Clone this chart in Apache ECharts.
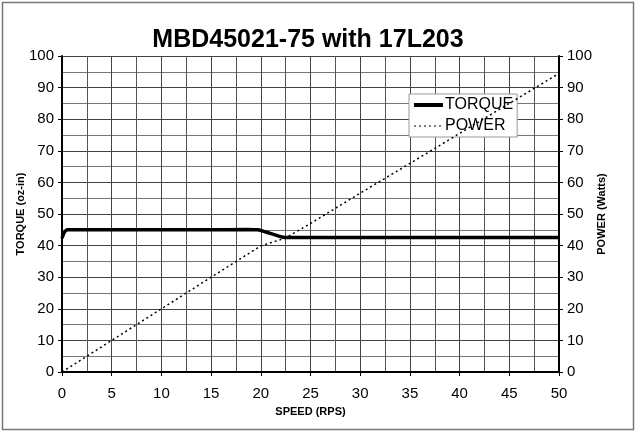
<!DOCTYPE html>
<html><head><meta charset="utf-8">
<script src="https://cdn.jsdelivr.net/npm/echarts@6/dist/echarts.min.js"></script>
<style>html,body{margin:0;padding:0;background:#fff}#c{width:639px;height:434px}</style>
</head><body><div id="c"></div>
<script>
var titleText = 'MBD45021-75 with 17L203';
var xTicks = [0,5,10,15,20,25,30,35,40,45,50];
var torqueSpeed = [0, 0.55, 5, 10, 15, 18.5, 19.7, 20.5, 21.5, 22.4, 25, 30, 35, 40, 45, 50];
var torqueVal   = [42.3, 45, 45, 45, 45, 45.1, 45, 44.3, 43.3, 42.6, 42.6, 42.6, 42.6, 42.6, 42.6, 42.6];
var powerSpeed = [0, 5, 10, 15, 20, 22.5, 25, 30, 35, 40, 45, 50];
var powerVal   = [0, 10, 20, 30, 39.9, 42.4, 47, 56.6, 66, 75.5, 85, 94.5];

var F = '"Liberation Sans", Arial, sans-serif';
function zip(a,b){return a.map(function(v,i){return [v,b[i]];});}
var chart = echarts.init(document.getElementById('c'), null, {renderer:'canvas'});
chart.setOption({
  animation:false,
  backgroundColor:'#fff',
  title:{text:titleText,left:303,textAlign:'center',top:23,
    textStyle:{fontFamily:F,fontSize:25,fontWeight:'bold',color:'#000'}},
  graphic:[{type:'rect',shape:{x:2.5,y:2.5,width:631,height:427},
    style:{fill:'none',stroke:'#777',lineWidth:1.5},z:-10}],
  legend:{left:409,top:94,orient:'vertical',itemWidth:29,itemHeight:12,itemGap:5,
    padding:[3,4,3,3],borderColor:'#999',borderWidth:1,backgroundColor:'#fff',
    textStyle:{fontFamily:F,fontSize:16,color:'#000',padding:[0,0,0,-3]},
    itemStyle:{opacity:0},
    data:[{name:'TORQUE',lineStyle:{width:4,color:'#000'}},
          {name:'POWER',lineStyle:{width:1.2,color:'#000',type:[2,3]}}]},
  grid:{left:62,right:80,top:56,bottom:62},
  xAxis:{type:'value',min:0,max:50,interval:5,
    name:'SPEED (RPS)',nameLocation:'middle',nameGap:34,nameMoveOverlap:false,
    nameTextStyle:{fontFamily:F,fontSize:11,fontWeight:'bold',color:'#000'},
    axisLine:{lineStyle:{color:'#000',width:2}},
    axisTick:{show:true,length:4,lineStyle:{color:'#000'}},
    axisLabel:{fontFamily:F,fontSize:15,color:'#000',margin:14},
    splitLine:{show:true,lineStyle:{color:'#444',width:1}},
    minorTick:{show:false,splitNumber:2},
    minorSplitLine:{show:true,lineStyle:{color:'#555',width:1}}},
  yAxis:[{type:'value',min:0,max:100,interval:10,position:'left',
    name:'TORQUE (oz-in)',nameLocation:'middle',nameGap:36,nameMoveOverlap:false,
    nameTextStyle:{fontFamily:F,fontSize:11,fontWeight:'bold',color:'#000'},
    axisLine:{show:true,lineStyle:{color:'#000',width:2}},
    axisTick:{show:true,length:4,lineStyle:{color:'#000'}},
    axisLabel:{fontFamily:F,fontSize:15,color:'#000',margin:8},
    splitLine:{show:true,lineStyle:{color:'#444',width:1}},
    minorTick:{show:false,splitNumber:2},
    minorSplitLine:{show:true,lineStyle:{color:'#777',width:1}}},
   {type:'value',min:0,max:100,interval:10,position:'right',
    name:'POWER (Watts)',nameLocation:'middle',nameGap:37,nameRotate:90,nameMoveOverlap:false,
    nameTextStyle:{fontFamily:F,fontSize:11,fontWeight:'bold',color:'#000'},
    axisLine:{show:true,lineStyle:{color:'#000',width:2}},
    axisTick:{show:true,length:4,lineStyle:{color:'#000'}},
    axisLabel:{fontFamily:F,fontSize:15,color:'#000',margin:8},
    splitLine:{show:false}}],
  series:[
    {name:'TORQUE',type:'line',yAxisIndex:0,data:zip(torqueSpeed,torqueVal),
     symbol:'none',smooth:0.3,lineStyle:{color:'#000',width:3.5},itemStyle:{color:'#000'},z:5},
    {name:'POWER',type:'line',yAxisIndex:1,data:zip(powerSpeed,powerVal),
     symbol:'none',lineStyle:{color:'#000',width:1.5,type:[2,3]},itemStyle:{color:'#000'},z:4}
  ]
});
</script></body></html>
